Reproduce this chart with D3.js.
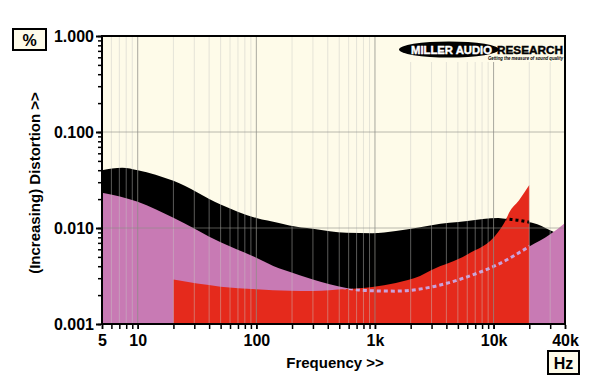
<!DOCTYPE html>
<html>
<head>
<meta charset="utf-8">
<script src="https://cdn.jsdelivr.net/npm/d3@7"></script>
<style>
  body { margin: 0; background: #fff; }
  text { font-family: "Liberation Sans", Arial, sans-serif; font-weight: bold; }
</style>
</head>
<body>
<svg id="chart" width="600" height="392"></svg>
<script>
// black band (upper curve)
const freqBlack = [5, 7.4, 10, 20, 50, 100, 155, 190, 300, 575, 950, 1500, 2400, 3000, 6000, 11000, 13000, 16500, 20000, 21500, 30000, 34000, 40000];
const distBlack = [0.040, 0.0425, 0.040, 0.031, 0.0176, 0.0127, 0.0113, 0.0106, 0.0098, 0.0089, 0.0088, 0.0093, 0.0102, 0.0107, 0.0118, 0.0127, 0.0124, 0.0120, 0.0115, 0.0113, 0.0095, 0.0088, 0.0081];

// pink curve
const freqPink = [5, 10, 20, 50, 100, 155, 190, 300, 575, 700, 950, 1500, 3000, 6000, 11000, 20000, 30000, 40000];
const distPink = [0.0233, 0.0188, 0.0128, 0.0071, 0.0049, 0.0038, 0.0035, 0.0029, 0.00237, 0.00228, 0.00222, 0.00220, 0.00243, 0.0031, 0.0042, 0.0064, 0.0086, 0.0113];

// red curve (20 Hz - 20 kHz)
const freqRed = [20, 50, 100, 190, 300, 575, 950, 1500, 2400, 3000, 6000, 11000, 12700, 13500, 16400, 20000];
const distRed = [0.0029, 0.00245, 0.0023, 0.00222, 0.00221, 0.00231, 0.00243, 0.00268, 0.00316, 0.00365, 0.0053, 0.0092, 0.0122, 0.0144, 0.0195, 0.028];

const yTicks = [1, 0.1, 0.01, 0.001];
const yTickLabels = ['1.000', '0.100', '0.010', '0.001'];
const xTicks = [5, 10, 100, 1000, 10000, 40000];
const xTickLabels = ['5', '10', '100', '1k', '10k', '40k'];

const plot = { left: 102, right: 565, top: 36, bottom: 324 };

const x = d3.scaleLog().domain([5, 40000]).range([plot.left, plot.right]);
const y = d3.scaleLog().domain([0.001, 1]).range([plot.bottom, plot.top]);

const svg = d3.select('#chart');

const zip = (f, v) => f.map((d, i) => ({ f: d, v: v[i] }));
const black = zip(freqBlack, distBlack);
const pink = zip(freqPink, distPink);
const red = zip(freqRed, distRed);

const area = d3.area()
  .x(d => x(d.f))
  .y0(plot.bottom)
  .y1(d => y(d.v))
  .curve(d3.curveMonotoneX);

const line = d3.line()
  .x(d => x(d.f))
  .y(d => y(d.v))
  .curve(d3.curveMonotoneX);

// minor positions
const minorX = [];
for (let k = 0; k <= 4; k++) {
  for (let n = 1; n <= 9; n++) {
    const f = n * Math.pow(10, k);
    if (f > 5 && f < 40000) minorX.push(f);
  }
}
const minorY = [];
for (let k = -3; k < 0; k++) {
  for (let n = 1; n <= 9; n++) minorY.push(n * Math.pow(10, k));
}
minorY.push(1);

const defs = svg.append('defs');
defs.append('clipPath').attr('id', 'clip-plot')
  .append('rect')
  .attr('x', plot.left).attr('y', plot.top)
  .attr('width', plot.right - plot.left).attr('height', plot.bottom - plot.top);
defs.append('clipPath').attr('id', 'clip-red')
  .append('path').attr('d', area(red));

// plot background
svg.append('rect')
  .attr('x', plot.left).attr('y', plot.top)
  .attr('width', plot.right - plot.left).attr('height', plot.bottom - plot.top)
  .attr('fill', '#fefbe9');

const g = svg.append('g').attr('clip-path', 'url(#clip-plot)');

g.append('path').attr('d', area(black)).attr('fill', '#000');
g.append('path').attr('d', area(pink)).attr('fill', '#c87ab4');
g.append('path').attr('d', area(red)).attr('fill', '#e52a1c');

// hidden parts of curves shown dotted over red
g.append('path').attr('d', line(pink))
  .attr('clip-path', 'url(#clip-red)')
  .attr('fill', 'none').attr('stroke', '#caa2dc')
  .attr('stroke-width', 3).attr('stroke-dasharray', '4,3');
g.append('path').attr('d', line(black))
  .attr('clip-path', 'url(#clip-red)')
  .attr('fill', 'none').attr('stroke', '#000')
  .attr('stroke-width', 3).attr('stroke-dasharray', '3,3');

// grid on top
g.selectAll('.vgrid')
  .data(minorX)
  .enter()
  .append('line')
  .attr('x1', d => x(d)).attr('x2', d => x(d))
  .attr('y1', plot.top).attr('y2', plot.bottom)
  .attr('stroke', d => xTicks.includes(d) ? '#8c8c86' : '#c8c8c4')
  .attr('stroke-opacity', d => xTicks.includes(d) ? 0.75 : 0.45)
  .attr('stroke-width', 1);
g.selectAll('.hgrid')
  .data([0.1, 0.01])
  .enter()
  .append('line')
  .attr('x1', plot.left).attr('x2', plot.right)
  .attr('y1', d => y(d)).attr('y2', d => y(d))
  .attr('stroke', '#8c8c86').attr('stroke-opacity', 0.6);

// logo
const logo = svg.append('g');
logo.append('rect')
  .attr('x', 396).attr('y', plot.top + 1)
  .attr('width', plot.right - 397).attr('height', 25)
  .attr('fill', '#fefbe9');
logo.append('ellipse')
  .attr('cx', 449).attr('cy', 49.5).attr('rx', 50).attr('ry', 8)
  .attr('fill', '#000');
logo.append('text')
  .attr('x', 411).attr('y', 53.5)
  .attr('font-size', 10.5).attr('fill', '#fff')
  .attr('stroke', '#fff').attr('stroke-width', 0.4)
  .attr('textLength', 81).attr('lengthAdjust', 'spacingAndGlyphs')
  .text('MILLER AUDIO');
logo.append('text')
  .attr('x', 497).attr('y', 53.5)
  .attr('font-size', 10.5).attr('fill', '#000')
  .attr('stroke', '#000').attr('stroke-width', 0.4)
  .attr('textLength', 66).attr('lengthAdjust', 'spacingAndGlyphs')
  .text('RESEARCH');
logo.append('text')
  .attr('x', 488).attr('y', 59.5)
  .attr('font-size', 5).attr('font-style', 'italic').attr('fill', '#000')
  .attr('textLength', 75).attr('lengthAdjust', 'spacingAndGlyphs')
  .text('Getting the measure of sound quality');

// frame
svg.append('rect')
  .attr('x', plot.left).attr('y', plot.top)
  .attr('width', plot.right - plot.left).attr('height', plot.bottom - plot.top)
  .attr('fill', 'none').attr('stroke', '#000').attr('stroke-width', 2);

// Y axis
svg.append('g')
  .attr('transform', `translate(${plot.left - 1},0)`)
  .call(d3.axisLeft(y).tickValues(minorY).tickSize(3).tickFormat(''))
  .call(a => a.select('.domain').remove())
  .call(a => a.selectAll('line').attr('stroke-width', 1.5));
svg.append('g')
  .attr('transform', `translate(${plot.left - 1},0)`)
  .call(d3.axisLeft(y).tickValues(yTicks).tickSize(5).tickPadding(2)
    .tickFormat((d, i) => yTickLabels[i]))
  .call(a => a.select('.domain').remove())
  .call(a => a.selectAll('line').attr('stroke-width', 2))
  .call(a => a.selectAll('text')
    .attr('font-size', 16).attr('font-family', '"Liberation Sans", Arial, sans-serif')
    .attr('font-weight', 'bold').attr('fill', '#000'));

// X axis
svg.append('g')
  .attr('transform', `translate(0,${plot.bottom + 1})`)
  .call(d3.axisBottom(x).tickValues(minorX.concat([5, 40000])).tickSize(4).tickFormat(''))
  .call(a => a.select('.domain').remove())
  .call(a => a.selectAll('line').attr('stroke-width', 1.5));
svg.append('g')
  .attr('transform', `translate(0,${plot.bottom + 1})`)
  .call(d3.axisBottom(x).tickValues(xTicks).tickSize(4).tickPadding(6)
    .tickFormat((d, i) => xTickLabels[i]))
  .call(a => a.select('.domain').remove())
  .call(a => a.selectAll('line').attr('stroke-width', 1.5))
  .call(a => a.selectAll('text')
    .attr('font-size', 16).attr('font-family', '"Liberation Sans", Arial, sans-serif')
    .attr('font-weight', 'bold').attr('fill', '#000'));

// axis titles
svg.append('text')
  .attr('x', 335).attr('y', 368)
  .attr('text-anchor', 'middle').attr('font-size', 15)
  .text('Frequency >>');
svg.append('text')
  .attr('transform', 'translate(40,183) rotate(-90)')
  .attr('text-anchor', 'middle').attr('font-size', 15)
  .text('(Increasing) Distortion >>');

// unit boxes
const unitBox = (bx, by, w, h, label) => {
  svg.append('rect')
    .attr('x', bx).attr('y', by).attr('width', w).attr('height', h)
    .attr('fill', '#fefbe9').attr('stroke', '#000').attr('stroke-width', 2);
  svg.append('text')
    .attr('x', bx + w / 2).attr('y', by + h / 2 + 6)
    .attr('text-anchor', 'middle').attr('font-size', 16)
    .text(label);
};
unitBox(13, 29, 33, 21, '%');
unitBox(548, 351, 31, 23, 'Hz');
</script>
</body>
</html>
